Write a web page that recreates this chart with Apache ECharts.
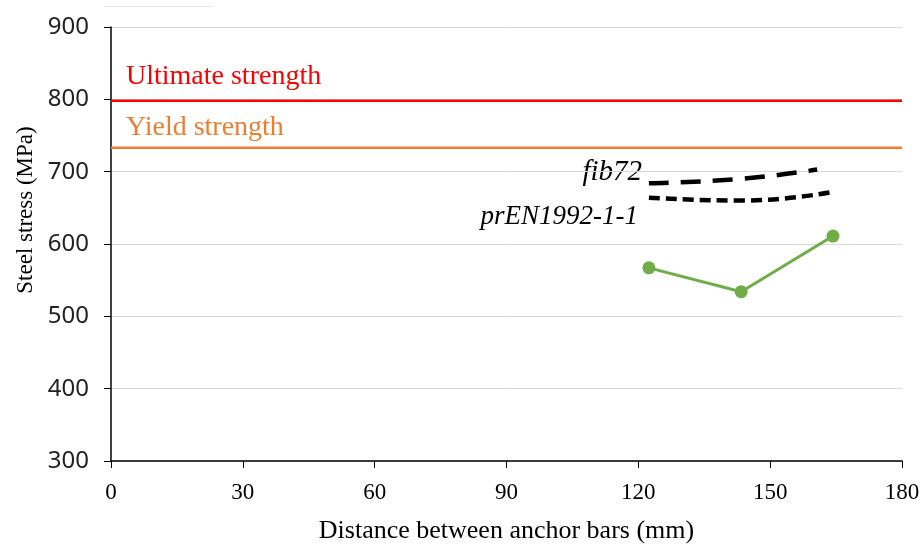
<!DOCTYPE html>
<html>
<head>
<meta charset="utf-8">
<script src="https://cdn.jsdelivr.net/npm/echarts@6/dist/echarts.min.js"></script>
<style>
	html, body { margin: 0; padding: 0; background: #fff; }
	#main { width: 923px; height: 546px; }
</style>
</head>
<body>
<div id="main"></div>
<script>
// measured values
const testX = [122.4, 143.4, 164.3];
const testY = [567, 534, 611];
const fibX = [122.4, 143.4, 160.7];
const fibY = [684, 690, 703];
const prenX = [122.4, 143.4, 164.3];
const prenY = [664, 660, 672];
const ultimate = 798;
const yieldStr = 733;
const xRange = [0, 180];

const pairs = (xs, ys) => xs.map((x, i) => [x, ys[i]]);

let myChart = echarts.init(document.getElementById('main'));
let serif = '"Liberation Serif", "DejaVu Serif", serif';

let option = {
	backgroundColor: '#fff',
	animation: false,
	grid: {
		left: 111,
		right: 21,
		top: 27,
		bottom: 85,
		outerBoundsMode: 'none'
	},
	xAxis: {
		type: 'value',
		min: 0,
		max: 180,
		interval: 30,
		name: 'Distance between anchor bars (mm)',
		nameLocation: 'middle',
		nameGap: 57,
		nameTextStyle: { fontFamily: serif, fontSize: 26, color: '#000' },
		axisLine: { lineStyle: { color: '#000', width: 1.5 } },
		axisTick: { show: true, length: 7, lineStyle: { color: '#000' } },
		axisLabel: { fontFamily: serif, fontSize: 23, color: '#000', margin: 20 },
		splitLine: { show: false }
	},
	yAxis: {
		type: 'value',
		min: 300,
		max: 900,
		interval: 100,
		axisLine: { show: true, lineStyle: { color: '#000', width: 1.5 } },
		axisTick: { show: true, length: 7, lineStyle: { color: '#000' } },
		axisLabel: { fontFamily: '"Noto Sans", sans-serif', fontSize: 24, color: '#222', margin: 22 },
		splitLine: { lineStyle: { color: '#d9d9d9', width: 1 } }
	},
	series: [{
		name: 'Ultimate strength',
		type: 'line',
		data: xRange.map(x => [x, ultimate]),
		symbol: 'none',
		lineStyle: { color: '#ff0000', width: 2.5 }
	}, {
		name: 'Yield strength',
		type: 'line',
		data: xRange.map(x => [x, yieldStr]),
		symbol: 'none',
		lineStyle: { color: '#ed7d31', width: 2.5 }
	}, {
		name: 'fib72',
		type: 'line',
		data: pairs(fibX, fibY),
		smooth: true,
		symbol: 'none',
		lineStyle: { color: '#000', width: 4.5, type: [20, 12] }
	}, {
		name: 'prEN1992-1-1',
		type: 'line',
		data: pairs(prenX, prenY),
		smooth: true,
		symbol: 'none',
		lineStyle: { color: '#000', width: 4.5, type: [11, 6] }
	}, {
		name: 'Test',
		type: 'line',
		data: pairs(testX, testY),
		symbol: 'circle',
		symbolSize: 13,
		itemStyle: { color: '#70ad47' },
		lineStyle: { color: '#70ad47', width: 3 }
	}],
	graphic: [{
		type: 'text',
		left: 126,
		top: 63,
		style: { text: 'Ultimate strength', fill: '#ff0000', font: '28px ' + serif }
	}, {
		type: 'text',
		left: 126,
		top: 114,
		style: { text: 'Yield strength', fill: '#ed7d31', font: '28px ' + serif }
	}, {
		type: 'text',
		right: 923 - 642,
		top: 158,
		style: { text: 'fib72', fill: '#000', font: 'italic 29px ' + serif }
	}, {
		type: 'text',
		right: 923 - 638,
		top: 203,
		style: { text: 'prEN1992-1-1', fill: '#000', font: 'italic 27px ' + serif }
	}, {
		type: 'text',
		x: 26,
		y: 210,
		rotation: Math.PI / 2,
		style: {
			text: 'Steel stress (MPa)',
			fill: '#000',
			font: '23px ' + serif,
			align: 'center',
			verticalAlign: 'middle'
		}
	}, {
		type: 'rect',
		shape: { x: 105, y: 6, width: 108, height: 1 },
		style: { fill: '#e6e6e6' }
	}]
};

myChart.setOption(option);
</script>
</body>
</html>
